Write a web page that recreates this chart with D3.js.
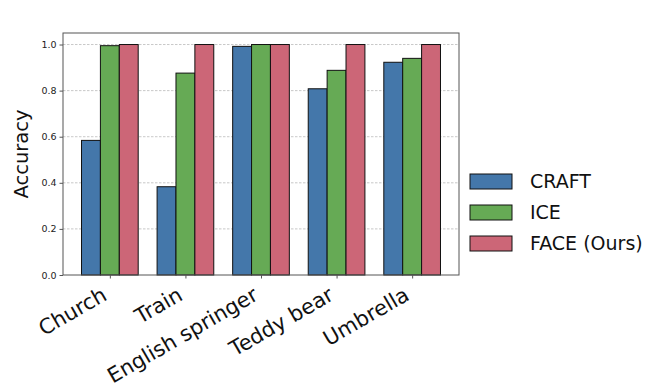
<!DOCTYPE html>
<html>
<head>
<meta charset="utf-8">
<script src="https://cdn.jsdelivr.net/npm/d3@7"></script>
<style>
  body { margin: 0; background: #fff; }
  text { font-family: "DejaVu Sans", sans-serif; }
</style>
</head>
<body>
<div id="chart"></div>
<script>
// data
const categories = ["Church", "Train", "English springer", "Teddy bear", "Umbrella"];
const seriesNames = ["CRAFT", "ICE", "FACE (Ours)"];
const craft = [0.584, 0.383, 0.992, 0.808, 0.923];
const ice = [0.995, 0.876, 1.0, 0.888, 0.940];
const face = [1.0, 1.0, 1.0, 1.0, 1.0];
const yTicks = [0.0, 0.2, 0.4, 0.6, 0.8, 1.0];
const colors = ["#4477AA", "#66AA55", "#CC6677"];

const series = [craft, ice, face];

const W = 655, H = 389;
const margin = { top: 33, right: 196, bottom: 114, left: 63 };
const width = W - margin.left - margin.right;
const height = H - margin.top - margin.bottom;

const svg = d3.select("#chart").append("svg")
    .attr("width", W)
    .attr("height", H);

const g = svg.append("g")
    .attr("transform", `translate(${margin.left},${margin.top})`);

// escalas (como matplotlib: grupos en 0..4, ancho de barra 0.25)
const barW = 0.25;
const x = d3.scaleLinear().domain([-0.62, 4.62]).range([0, width]);
const y = d3.scaleLinear().domain([0, 1.05]).range([height, 0]);

// grid
g.append("g")
    .selectAll("line")
    .data(yTicks.filter(d => d > 0))
    .enter().append("line")
    .attr("x1", 0).attr("x2", width)
    .attr("y1", d => y(d)).attr("y2", d => y(d))
    .attr("stroke", "#b0b0b0")
    .attr("stroke-width", 0.7)
    .attr("stroke-dasharray", "2.5,1.5");

// barras
series.forEach((vals, s) => {
    g.append("g")
        .selectAll("rect")
        .data(vals)
        .enter().append("rect")
        .attr("x", (d, i) => x(i + (s - 1) * barW - barW / 2))
        .attr("width", x(barW) - x(0))
        .attr("y", d => y(d))
        .attr("height", d => y(0) - y(d))
        .attr("fill", colors[s])
        .attr("stroke", "#111")
        .attr("stroke-width", 1);
});

// marco
g.append("rect")
    .attr("width", width).attr("height", height)
    .attr("fill", "none")
    .attr("stroke", "#555")
    .attr("stroke-width", 1);

// eje Y
const yAxis = g.append("g")
    .call(d3.axisLeft(y).tickValues(yTicks).tickFormat(d3.format(".1f")).tickSize(3.5).tickPadding(3));
yAxis.select(".domain").remove();
yAxis.selectAll("line").attr("stroke", "#555");
yAxis.selectAll("text").attr("font-size", 9.5).attr("fill", "#222")
    .style("font-family", "DejaVu Sans");

// eje X
const xAxis = g.append("g")
    .attr("transform", `translate(0,${height})`)
    .call(d3.axisBottom(x).tickValues(d3.range(categories.length)).tickFormat(i => categories[i]).tickSize(3.5));
xAxis.select(".domain").remove();
xAxis.selectAll("line").attr("stroke", "#555");
xAxis.selectAll("text")
    .attr("font-size", 21)
    .attr("fill", "#111")
    .style("font-family", "DejaVu Sans")
    .attr("text-anchor", "end")
    .attr("y", 0).attr("dy", 0)
    .attr("transform", "translate(-2,24) rotate(-30)");

// etiqueta Y
svg.append("text")
    .attr("transform", `translate(28,${margin.top + height / 2}) rotate(-90)`)
    .attr("text-anchor", "middle")
    .attr("font-size", 19.5)
    .attr("fill", "#111")
    .text("Accuracy");

// leyenda
const legend = svg.append("g").attr("transform", "translate(470,174)");
seriesNames.forEach((name, i) => {
    const row = legend.append("g").attr("transform", `translate(0,${i * 31})`);
    row.append("rect")
        .attr("width", 42).attr("height", 15)
        .attr("fill", colors[i])
        .attr("stroke", "#111")
        .attr("stroke-width", 1);
    row.append("text")
        .attr("x", 60).attr("y", 7.5)
        .attr("dy", "0.35em")
        .attr("font-size", 19)
        .attr("fill", "#111")
        .text(name);
});
</script>
</body>
</html>
